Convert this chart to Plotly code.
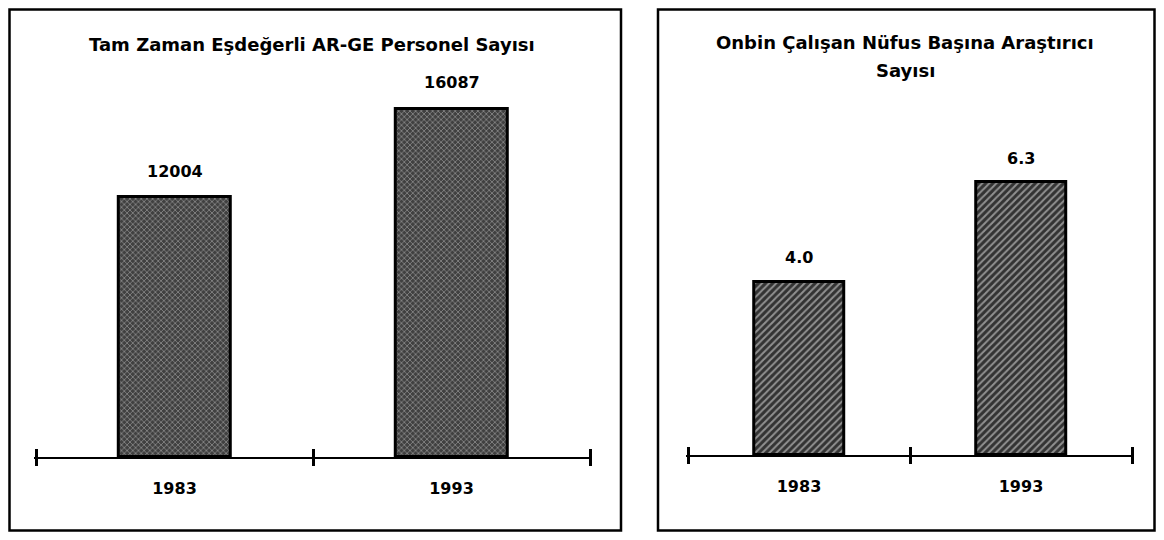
import plotly.graph_objects as go

# ---- data ----
years = ["1983", "1993"]
personnel = [12004, 16087]
personnel_labels = ["12004", "16087"]
researchers = [4.0, 6.3]
researcher_labels = ["4.0", "6.3"]
title_left = "Tam Zaman Eşdeğerli AR-GE Personel Sayısı"
title_right_1 = "Onbin Çalışan Nüfus Başına Araştırıcı"
title_right_2 = "Sayısı"

# the page body has an 8px margin, so the figure is placed 8px in from the window corner
OFF = 8
W, H = 1164 - 2 * OFF, 540 - 2 * OFF
FONT = "DejaVu Sans"
PAD = 0.008  # small range padding so the end tick marks are not clipped
XR = [-0.5 - PAD, 1.5 + PAD]


def px(x):
    return (x - OFF) / W


def py(y):
    return 1 - (y - OFF) / H


def xdomain(left_tick, right_tick):
    unit = (right_tick - left_tick) / 2.0
    return [px(left_tick - PAD * unit), px(right_tick + PAD * unit)]


fig = go.Figure()

fig.add_trace(go.Bar(
    x=years, y=personnel, xaxis="x", yaxis="y", width=0.405,
    marker=dict(
        color="#505050",
        line=dict(color="black", width=3),
        pattern=dict(shape="x", fgcolor="#dadada", bgcolor="#404040", size=4, solidity=0.35),
    ),
    hoverinfo="x+y", showlegend=False,
))
fig.add_trace(go.Bar(
    x=years, y=researchers, xaxis="x2", yaxis="y2", width=0.405,
    marker=dict(
        color="#555555",
        line=dict(color="black", width=3),
        pattern=dict(shape="/", fgcolor="#eeeeee", bgcolor="#333333", size=5, solidity=0.4),
    ),
    hoverinfo="x+y", showlegend=False,
))
# empty traces so the overlay axes carrying the upward tick marks are drawn
fig.add_trace(go.Scatter(x=[], y=[], xaxis="x3", yaxis="y", showlegend=False, hoverinfo="skip"))
fig.add_trace(go.Scatter(x=[], y=[], xaxis="x4", yaxis="y2", showlegend=False, hoverinfo="skip"))

axis_common = dict(
    type="category", categoryarray=years, range=XR,
    showline=True, linecolor="black", linewidth=2,
    ticks="outside", tickson="boundaries", ticklen=7, tickwidth=3, tickcolor="black",
    showgrid=False, zeroline=False, fixedrange=True,
    tickfont=dict(family=FONT, size=16, color="black", weight="bold"),
    ticklabelstandoff=16,
)
inner_ticks = dict(
    type="linear", range=XR, tickvals=[-0.5, 0.5, 1.5],
    ticks="inside", ticklen=8, tickwidth=3, tickcolor="black",
    showticklabels=False, showgrid=False, zeroline=False, showline=False, fixedrange=True,
)

fig.update_layout(
    width=W, height=H, autosize=False,
    margin=dict(l=0, r=0, t=0, b=0),
    paper_bgcolor="white", plot_bgcolor="rgba(0,0,0,0)",
    bargap=0,
    xaxis=dict(domain=xdomain(36, 590), anchor="y", **axis_common),
    yaxis=dict(domain=[py(457), py(80)], range=[0, 17407], visible=False, fixedrange=True),
    xaxis2=dict(domain=xdomain(688, 1132), anchor="y2", **axis_common),
    yaxis2=dict(domain=[py(455), py(140)], range=[0, 7.28], visible=False, fixedrange=True),
    xaxis3=dict(overlaying="x", anchor="y", **inner_ticks),
    xaxis4=dict(overlaying="x2", anchor="y2", **inner_ticks),
)

label_font = dict(family=FONT, size=16, color="black", weight="bold")
title_font = dict(family=FONT, size=18, color="black", weight="bold")

annotations = []
for i, (v, lab) in enumerate(zip(personnel, personnel_labels)):
    annotations.append(dict(x=i, y=v, xref="x", yref="y", text=lab, showarrow=False,
                            yshift=26, yanchor="middle", font=label_font))
for i, (v, lab) in enumerate(zip(researchers, researcher_labels)):
    annotations.append(dict(x=i, y=v, xref="x2", yref="y2", text=lab, showarrow=False,
                            yshift=24, yanchor="middle", font=label_font))
annotations.append(dict(x=px(312), y=py(45), xref="paper", yref="paper", text=title_left,
                        showarrow=False, xanchor="center", yanchor="middle", font=title_font))
annotations.append(dict(x=px(905), y=py(42), xref="paper", yref="paper", text=title_right_1,
                        showarrow=False, xanchor="center", yanchor="middle", font=title_font))
annotations.append(dict(x=px(905), y=py(70), xref="paper", yref="paper", text=title_right_2,
                        showarrow=False, xanchor="center", yanchor="middle", font=title_font))
fig.update_layout(annotations=annotations)

fig.update_layout(shapes=[
    dict(type="rect", xref="paper", yref="paper", x0=px(9.5), x1=px(621), y0=py(530.5), y1=py(9.5),
         line=dict(color="black", width=2.5)),
    dict(type="rect", xref="paper", yref="paper", x0=px(658), x1=px(1154.5), y0=py(530.5), y1=py(9.5),
         line=dict(color="black", width=2.5)),
])

fig.write_html("out.html")
